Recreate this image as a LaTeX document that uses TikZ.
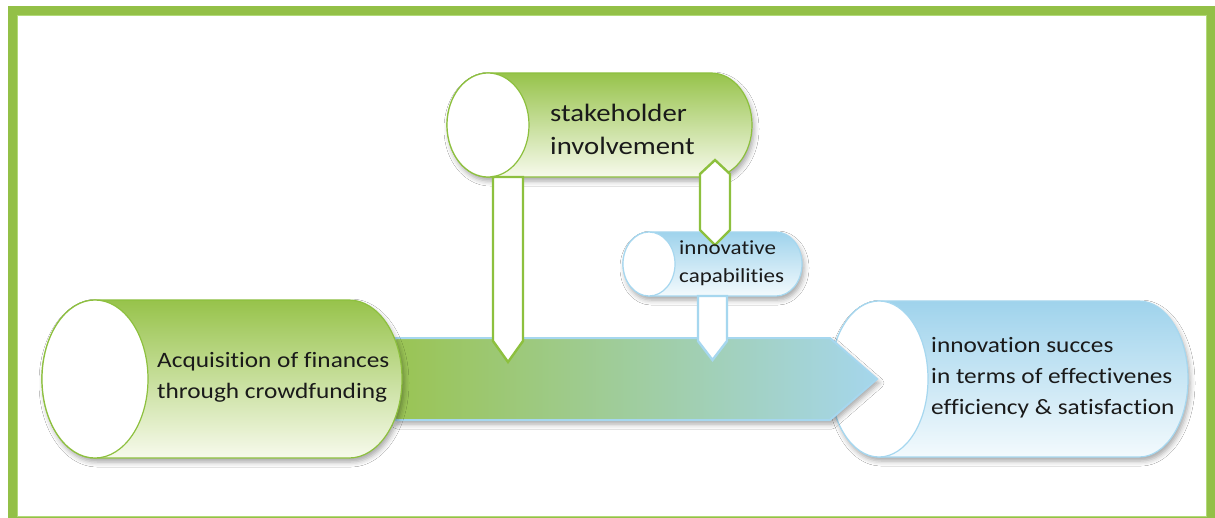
\documentclass[tikz,border=0pt]{standalone}
\usepackage{fontspec}
\setmainfont{Carlito}
\newfontfamily\widefont[FakeStretch=1.15,Ligatures={NoCommon}]{Carlito}
\usetikzlibrary{shadows.blur}
\definecolor{frameg}{HTML}{93C047}
\definecolor{framel}{HTML}{B2DA78}
\definecolor{gtop}{HTML}{97C34B}
\definecolor{gbot}{HTML}{F7FAEC}
\definecolor{gline}{HTML}{8DC03E}
\definecolor{btop}{HTML}{9FD3EC}
\definecolor{bbot}{HTML}{F3FAFD}
\definecolor{bline}{HTML}{A6D7EF}
\definecolor{arrg}{HTML}{9AC453}
\definecolor{arrb}{HTML}{A5D6EC}
\definecolor{txt}{HTML}{1A1A1A}
\newcommand\cylbody[6]{%
  \path[#6] (#1,#2-#4) -- (#5,#2-#4) arc[start angle=-90,end angle=90,x radius=#3,y radius=#4]
    -- (#1,#2+#4) arc[start angle=90,end angle=270,x radius=#3,y radius=#4] -- cycle;}
\tikzset{
  shad/.style={blur shadow={shadow xshift=2pt,shadow yshift=-4pt,shadow blur radius=5pt,shadow opacity=35}},
  gcyl/.style={shad,top color=gtop,bottom color=gbot,draw=gline,line width=1.2pt},
  bcyl/.style={shad,top color=btop,bottom color=bbot,draw=bline,line width=1.2pt},
  gface/.style={fill=white,draw=gline,line width=1.2pt},
  bface/.style={fill=white,draw=bline,line width=1.2pt},
  garrow/.style={fill=white,draw=gline,line width=2.4pt,line join=miter},
  barrow/.style={fill=white,draw=bline,line width=2.4pt,line join=miter},
  lbl/.style={text=txt,align=left,anchor=west,inner sep=0pt}
}
\begin{document}
\begin{tikzpicture}[x=1pt,y=-1pt]
\useasboundingbox (0,0) rectangle (1215,517);
\begin{scope}
\clip (0,0) rectangle (1215,517);
\fill[white] (8,6) rectangle (1215,517);
\draw[frameg,line width=9pt] (12.5,10.5) rectangle (1211.5,521.5);
\draw[framel,line width=0.8pt] (17.4,15.4) rectangle (1206.6,516.6);
\end{scope}
% right cylinder
\cylbody{879}{379}{49}{78}{1139}{bcyl}
\draw[bface] (879,379) ellipse[x radius=49,y radius=78];
% main arrow
\path[shad,left color=arrg,right color=arrb,draw=bline,line width=2pt,line join=miter]
  (395,338) -- (830,338) -- (877,379) -- (830,420) -- (395,420) -- cycle;
% left cylinder
\cylbody{95}{379}{53}{79}{349}{gcyl}
\draw[gface] (95,379) ellipse[x radius=53,y radius=79];
% top cylinder
\cylbody{488}{125}{41}{52}{711}{gcyl}
\draw[gface] (488,125) ellipse[x radius=41,y radius=52];
% green down arrow
\path[garrow] (493,177) -- (523,177) -- (523,341) -- (508,362) -- (493,341) -- cycle;
% innovative capabilities cylinder
\cylbody{649}{264}{26}{32}{776}{bcyl}
\draw[bface] (649,264) ellipse[x radius=26,y radius=32];
% double hexagon arrow
\path[garrow] (715,160) -- (730,174) -- (730,230) -- (715,245) -- (700,230) -- (700,174) -- cycle;
% blue down arrow
\path[barrow] (698,296) -- (727,296) -- (727,341) -- (712.5,360) -- (698,341) -- cycle;
% texts
\node[lbl,font=\widefont\fontsize{22}{31}\selectfont] (acq) at (157,377) {Acquisition of finances\\through crowdfunding};
\node[lbl,font=\widefont\fontsize{25}{33}\selectfont] (stake) at (550,129) {stakeholder\\involvement};
\node[lbl,font=\widefont\fontsize{20}{28}\selectfont] (innov) at (679,263) {innovative\\capabilities};
\node[lbl,font=\widefont\fontsize{22}{31}\selectfont] (succ) at (931,378) {innovation succes\\in terms of effectivenes\\efficiency \& satisfaction};
\end{tikzpicture}
\end{document}
